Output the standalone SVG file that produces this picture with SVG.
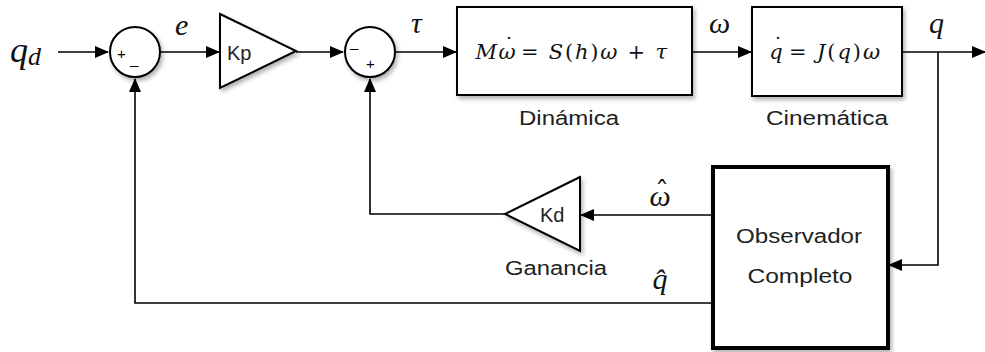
<svg xmlns="http://www.w3.org/2000/svg" width="985" height="352" viewBox="0 0 985 352">
<defs>
<style>
.blk{fill:#fff;stroke:#000;stroke-width:2;filter:url(#sh)}
.ln{fill:none;stroke:#000;stroke-width:1.6}
.lbl{font-family:"Liberation Sans",Arial,sans-serif;font-size:20px;fill:#222}
.m{font-family:"Liberation Serif","DejaVu Serif",serif;font-style:italic;fill:#111}
.eq{font-family:"DejaVu Serif","Liberation Serif",serif;font-style:italic;fill:#111;font-size:21px}
.mr{font-style:normal}
.ac{font-family:"DejaVu Serif","Liberation Serif",serif;fill:#111;text-anchor:middle}
.sg{font-family:"Liberation Sans",Arial,sans-serif;font-size:15px;fill:#000}
</style>
<filter id="sh" x="-10%" y="-10%" width="130%" height="130%">
<feDropShadow dx="2" dy="3" stdDeviation="2" flood-color="#000" flood-opacity="0.3"/>
</filter>
<marker id="ar" markerWidth="14" markerHeight="12" refX="13" refY="6" orient="auto" markerUnits="userSpaceOnUse">
<path d="M0,0 L14,6 L0,12 Z" fill="#000"/>
</marker>
</defs>
<rect width="985" height="352" fill="#fff"/>

<g id="connectors">
<path class="ln" d="M58,52 H108" marker-end="url(#ar)"/>
<path class="ln" d="M160,52 H219" marker-end="url(#ar)"/>
<path class="ln" d="M296,52 H343" marker-end="url(#ar)"/>
<path class="ln" d="M395,52 H456" marker-end="url(#ar)"/>
<path class="ln" d="M692,52 H751" marker-end="url(#ar)"/>
<path class="ln" d="M902,52 H985" marker-end="url(#ar)"/>
<path class="ln" d="M938,52 V265 H889" marker-end="url(#ar)"/>
<path class="ln" d="M713,215 H581" marker-end="url(#ar)"/>
<path class="ln" d="M505,214 H370 V79" marker-end="url(#ar)"/>
<path class="ln" d="M713,303 H135 V79" marker-end="url(#ar)"/>
</g>

<g id="qd"><text class="m" x="10" y="62" font-size="36">q<tspan font-size="26" dy="3">d</tspan></text></g>
<text class="m" x="175" y="35" font-size="30">e</text>
<text class="m" x="411" y="33" font-size="30">τ</text>
<text class="m" x="709" y="33" font-size="30">ω</text>
<text class="m" x="929" y="33" font-size="30">q</text>

<g id="sum1">
<circle cx="135" cy="52" r="25" class="blk"/>
<text class="sg" x="117" y="59">+</text>
<text class="sg" x="130" y="64">_</text>
</g>

<g id="kp">
<polygon class="blk" points="220,14 296,51 220,88"/>
<text class="lbl" x="227" y="60" font-size="19">Kp</text>
</g>

<g id="sum2">
<circle cx="370" cy="52" r="25" class="blk"/>
<text class="sg" x="350" y="53">–</text>
<text class="sg" x="366" y="69">+</text>
</g>

<g id="dinamica">
<rect class="blk" x="457" y="7" width="235" height="88"/>
<text class="eq" x="497" y="59" text-anchor="end">M</text>
<text class="eq" x="507" y="59" text-anchor="middle">ω</text>
<text class="ac" x="509" y="52" font-size="21">˙</text>
<text class="eq" x="521" y="59" textLength="146" lengthAdjust="spacing"><tspan class="mr">= </tspan>S<tspan class="mr">(</tspan>h<tspan class="mr">)</tspan>ω<tspan class="mr"> + </tspan>τ</text>
<text class="lbl" x="569" y="125" text-anchor="middle" textLength="100" lengthAdjust="spacingAndGlyphs">Dinámica</text>
</g>

<g id="cinematica">
<rect class="blk" x="752" y="7" width="150" height="89"/>
<text class="eq" x="776" y="59" text-anchor="middle">q</text>
<text class="ac" x="778" y="52" font-size="21">˙</text>
<text class="eq" x="789" y="59" textLength="91" lengthAdjust="spacing"><tspan class="mr">= </tspan>J<tspan class="mr">(</tspan>q<tspan class="mr">)</tspan>ω</text>
<text class="lbl" x="827" y="125" text-anchor="middle" textLength="122" lengthAdjust="spacingAndGlyphs">Cinemática</text>
</g>

<g id="observador">
<rect x="713" y="167" width="175" height="181" fill="#fff" stroke="#000" stroke-width="4" filter="url(#sh)"/>
<text class="lbl" x="799" y="243" text-anchor="middle" textLength="126" lengthAdjust="spacingAndGlyphs">Observador</text>
<text class="lbl" x="800" y="283" text-anchor="middle" textLength="105" lengthAdjust="spacingAndGlyphs">Completo</text>
</g>

<g id="kd">
<polygon class="blk" points="580,177 505,214 580,251"/>
<text class="lbl" x="540" y="222" font-size="19">Kd</text>
<text class="lbl" x="556" y="275" text-anchor="middle" textLength="102" lengthAdjust="spacingAndGlyphs">Ganancia</text>
</g>

<text class="m" x="660" y="206" font-size="30" text-anchor="middle">ω</text>
<text class="ac" x="662" y="201" font-size="28">ˆ</text>
<text class="m" x="660" y="289" font-size="30" text-anchor="middle">q̂</text>
</svg>
